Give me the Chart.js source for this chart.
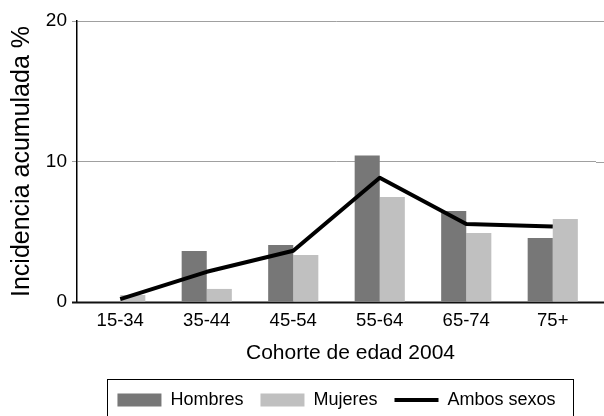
<!DOCTYPE html>
<html>
<head>
<meta charset="utf-8">
<script src="https://cdn.jsdelivr.net/npm/chart.js@4"></script>
<style>
html,body{margin:0;padding:0;background:#fff;}
#wrap{width:604px;height:416px;position:relative;}
</style>
</head>
<body>
<div id="wrap"><canvas id="c" width="604" height="416"></canvas></div>
<script>
const categories = ['15-34', '35-44', '45-54', '55-64', '65-74', '75+'];
const hombres = [0, 3.63, 4.06, 10.43, 6.47, 4.55];
const mujeres = [0.5, 0.93, 3.35, 7.47, 4.91, 5.9];
const ambos = [0.2, 2.15, 3.65, 8.84, 5.55, 5.37];
const seriesNames = ['Hombres', 'Mujeres', 'Ambos sexos'];
const yTicks = [0, 10, 20];
const xTitle = 'Cohorte de edad 2004';
const yTitle = 'Incidencia acumulada %';

const FONT = "'Liberation Sans', Arial, Helvetica, sans-serif";
const C_H = '#777777', C_M = '#c0c0c0';

const legendBox = {
  id: 'legendBox',
  afterDraw(chart) {
    const lg = chart.legend;
    if (!lg || !lg.legendHitBoxes || !lg.legendHitBoxes.length) return;
    const hb = lg.legendHitBoxes;
    let l = Infinity, r = -Infinity, t = Infinity;
    hb.forEach(h => { l = Math.min(l, h.left); r = Math.max(r, h.left + h.width); t = Math.min(t, h.top); });
    const ctx = chart.ctx;
    ctx.save();
    ctx.strokeStyle = '#000';
    ctx.lineWidth = 1;
    ctx.strokeRect(Math.round(l - 10) + 0.5, Math.round(t - 12) + 0.5, Math.round(r - l + 28), 60);
    ctx.restore();
  }
};

const axisDecor = {
  id: 'axisDecor',
  beforeDatasetsDraw(chart) {
    const y = chart.scales.y, ctx = chart.ctx, a = chart.chartArea;
    ctx.save();
    ctx.strokeStyle = '#a0a0a0';
    ctx.lineWidth = 1;
    yTicks.forEach(v => {
      if (v === 0) return;
      const py = Math.round(y.getPixelForValue(v)) + 0.5;
      ctx.beginPath(); ctx.moveTo(a.right, py); ctx.lineTo(chart.width, py); ctx.stroke();
    });
    const p0 = Math.round(y.getPixelForValue(0)) + 0.5;
    ctx.strokeStyle = '#111';
    ctx.lineWidth = 1.8;
    ctx.beginPath(); ctx.moveTo(a.left - 5, p0); ctx.lineTo(chart.width, p0); ctx.stroke();
    ctx.restore();
  },
  afterDraw(chart) {
    const a = chart.chartArea, ctx = chart.ctx;
    ctx.save();
    ctx.font = '21px ' + FONT;
    ctx.fillStyle = '#000';
    ctx.textAlign = 'center';
    ctx.textBaseline = 'middle';
    ctx.fillText(xTitle, (a.left + a.right) / 2 + 14, a.bottom + 51);
    ctx.restore();
  }
};

new Chart(document.getElementById('c'), {
  data: {
    labels: categories,
    datasets: [
      { type: 'bar', label: seriesNames[0], data: hombres, backgroundColor: C_H, order: 1,
        categoryPercentage: 0.58, barPercentage: 1.0 },
      { type: 'bar', label: seriesNames[1], data: mujeres, backgroundColor: C_M, order: 1,
        categoryPercentage: 0.58, barPercentage: 1.0 },
      { type: 'line', label: seriesNames[2], data: ambos, borderColor: '#000', borderWidth: 4,
        pointRadius: 0, tension: 0, order: 0, borderJoinStyle: 'round', borderCapStyle: 'butt', fill: false }
    ]
  },
  options: {
    responsive: false,
    animation: false,
    devicePixelRatio: 1,
    layout: { padding: { left: 0, right: 8, top: 21, bottom: -3 } },
    plugins: {
      tooltip: { enabled: false },
      legend: {
        position: 'bottom',
        fullSize: false,
        labels: {
          font: { family: FONT, size: 18 },
          color: '#000',
          usePointStyle: true,
          pointStyleWidth: 44,
          boxHeight: 13,
          padding: 17,
          generateLabels: () => [
            { text: seriesNames[0], fillStyle: C_H, strokeStyle: C_H, lineWidth: 0, pointStyle: 'rect', datasetIndex: 0, fontColor: '#000' },
            { text: seriesNames[1], fillStyle: C_M, strokeStyle: C_M, lineWidth: 0, pointStyle: 'rect', datasetIndex: 1, fontColor: '#000' },
            { text: seriesNames[2], fillStyle: '#000', strokeStyle: '#000', lineWidth: 4, pointStyle: 'line', datasetIndex: 2, fontColor: '#000' }
          ]
        }
      }
    },
    scales: {
      x: {
        offset: true,
        grid: { display: false, drawTicks: false },
        border: { display: false },
        ticks: { font: { family: FONT, size: 18.5 }, color: '#000', padding: 8, maxRotation: 0 },
        title: { display: false },
        afterFit: s => { s.height = 72; }
      },
      y: {
        min: 0, max: 20,
        afterBuildTicks: s => { s.ticks = yTicks.map(v => ({ value: v })); },
        grid: { color: '#a0a0a0', tickLength: 5, lineWidth: 1, drawTicks: true },
        border: { display: true, color: '#000', width: 1.5 },
        ticks: { font: { family: FONT, size: 19 }, color: '#000', padding: 5 },
        title: { display: true, text: yTitle, font: { family: FONT, size: 25 }, color: '#000', padding: { top: 7, bottom: 0 } },
        afterFit: s => { s.width = 77; }
      }
    }
  },
  plugins: [axisDecor, legendBox]
});
</script>
</body>
</html>
